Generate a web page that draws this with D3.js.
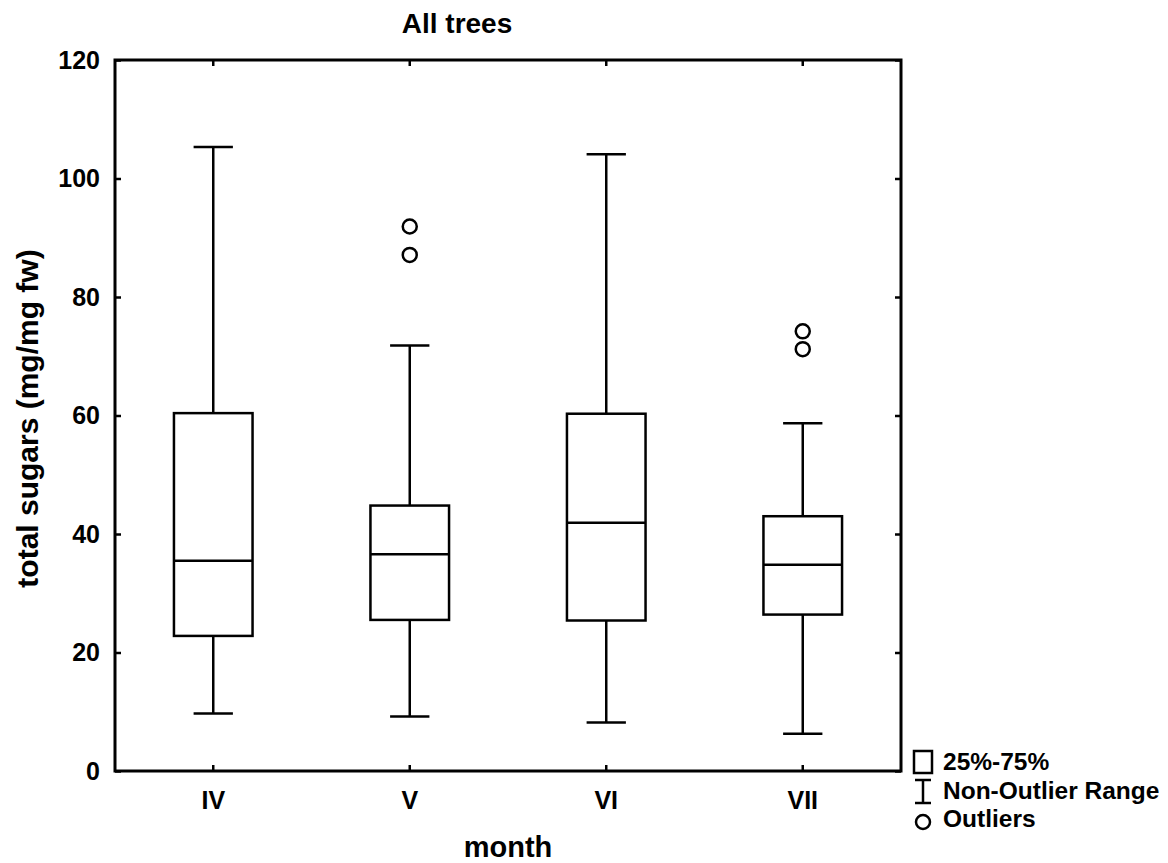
<!DOCTYPE html>
<html>
<head>
<meta charset="utf-8">
<script src="https://cdn.jsdelivr.net/npm/d3@7"></script>
<style>
  body { margin: 0; background: #fff; }
  svg text { font-family: "Liberation Sans", Arial, sans-serif; font-weight: bold; fill: #000; }
</style>
</head>
<body>
<svg id="chart" width="1168" height="863"></svg>
<script>
// values
let months = ["IV", "V", "VI", "VII"];
let q1 = [22.8, 25.5, 25.4, 26.4];
let medians = [35.5, 36.6, 41.9, 34.8];
let q3 = [60.4, 44.8, 60.3, 43.0];
let whiskerLow = [9.7, 9.2, 8.2, 6.3];
let whiskerHigh = [105.3, 71.8, 104.1, 58.7];
let outliers = [[], [91.9, 87.1], [], [74.2, 71.2]];
let yTicks = [0, 20, 40, 60, 80, 100, 120];

let boxes = months.map((m, i) => ({
  month: m, q1: q1[i], med: medians[i], q3: q3[i],
  lo: whiskerLow[i], hi: whiskerHigh[i], out: outliers[i]
}));

let margin = {top: 60, right: 267, bottom: 92, left: 115};
let width = 1168 - margin.left - margin.right;
let height = 863 - margin.top - margin.bottom;

let svg = d3.select("#chart");
let g = svg.append("g").attr("transform", "translate(" + margin.left + "," + margin.top + ")");

let x = d3.scaleBand().domain(months).range([0, width]).padding(0);
let y = d3.scaleLinear().domain([0, 120]).range([height, 0]);

let boxW = x.bandwidth() * 0.4;
let capW = x.bandwidth() * 0.2;
let sw = 2.5;

// axes with inward ticks
let tickSize = 6;
g.append("g").attr("class", "axis")
  .attr("transform", "translate(0," + height + ")")
  .call(d3.axisBottom(x).tickSize(-tickSize).tickPadding(20));
g.append("g").attr("class", "axis")
  .call(d3.axisTop(x).tickSize(-tickSize).tickFormat(""));
g.append("g").attr("class", "axis")
  .call(d3.axisLeft(y).tickValues(yTicks).tickSize(-tickSize).tickPadding(15));
g.append("g").attr("class", "axis")
  .attr("transform", "translate(" + width + ",0)")
  .call(d3.axisRight(y).tickValues(yTicks).tickSize(-tickSize).tickFormat(""));

g.selectAll(".axis .domain").remove();
g.selectAll(".axis line").attr("stroke", "#000").attr("stroke-width", sw);
g.selectAll(".axis text").style("font-size", "25px");

g.append("rect")
  .attr("width", width).attr("height", height)
  .attr("fill", "none").attr("stroke", "#000").attr("stroke-width", 3);

// boxes
let bx = g.selectAll(".box").data(boxes).enter().append("g")
  .attr("transform", d => "translate(" + (x(d.month) + x.bandwidth() / 2) + ",0)");

bx.append("line")
  .attr("x1", 0).attr("x2", 0)
  .attr("y1", d => y(d.q3)).attr("y2", d => y(d.hi))
  .attr("stroke", "#000").attr("stroke-width", sw);
bx.append("line")
  .attr("x1", 0).attr("x2", 0)
  .attr("y1", d => y(d.q1)).attr("y2", d => y(d.lo))
  .attr("stroke", "#000").attr("stroke-width", sw);
bx.append("line")
  .attr("x1", -capW / 2).attr("x2", capW / 2)
  .attr("y1", d => y(d.hi)).attr("y2", d => y(d.hi))
  .attr("stroke", "#000").attr("stroke-width", sw);
bx.append("line")
  .attr("x1", -capW / 2).attr("x2", capW / 2)
  .attr("y1", d => y(d.lo)).attr("y2", d => y(d.lo))
  .attr("stroke", "#000").attr("stroke-width", sw);
bx.append("rect")
  .attr("x", -boxW / 2).attr("width", boxW)
  .attr("y", d => y(d.q3)).attr("height", d => y(d.q1) - y(d.q3))
  .attr("fill", "#fff").attr("stroke", "#000").attr("stroke-width", sw);
bx.append("line")
  .attr("x1", -boxW / 2).attr("x2", boxW / 2)
  .attr("y1", d => y(d.med)).attr("y2", d => y(d.med))
  .attr("stroke", "#000").attr("stroke-width", sw);
bx.selectAll("circle").data(d => d.out).enter().append("circle")
  .attr("cx", 0).attr("cy", d => y(d)).attr("r", 7)
  .attr("fill", "none").attr("stroke", "#000").attr("stroke-width", sw);

// titles
svg.append("text").attr("x", 457).attr("y", 33)
  .attr("text-anchor", "middle").style("font-size", "28px").text("All trees");
svg.append("text").attr("x", margin.left + width / 2).attr("y", 857)
  .attr("text-anchor", "middle").style("font-size", "29px").text("month");
svg.append("text")
  .attr("transform", "translate(38," + (margin.top + height / 2 + 3) + ") rotate(-90)")
  .attr("text-anchor", "middle").style("font-size", "30px").text("total sugars (mg/mg fw)");

// legend
let lg = svg.append("g").attr("transform", "translate(914,751)");
lg.append("rect").attr("x", 0).attr("y", 0).attr("width", 18).attr("height", 22)
  .attr("fill", "none").attr("stroke", "#000").attr("stroke-width", sw);
lg.append("line").attr("x1", 9).attr("x2", 9).attr("y1", 29).attr("y2", 52)
  .attr("stroke", "#000").attr("stroke-width", sw);
lg.append("line").attr("x1", 1).attr("x2", 17).attr("y1", 29).attr("y2", 29)
  .attr("stroke", "#000").attr("stroke-width", sw);
lg.append("line").attr("x1", 1).attr("x2", 17).attr("y1", 52).attr("y2", 52)
  .attr("stroke", "#000").attr("stroke-width", sw);
lg.append("circle").attr("cx", 9).attr("cy", 71).attr("r", 7)
  .attr("fill", "none").attr("stroke", "#000").attr("stroke-width", sw);
let legendText = ["25%-75%", "Non-Outlier Range", "Outliers"];
lg.selectAll(".lt").data(legendText).enter().append("text")
  .attr("x", 29).attr("y", (d, i) => 19 + i * 28.5)
  .style("font-size", "24.5px").text(d => d);
</script>
</body>
</html>
